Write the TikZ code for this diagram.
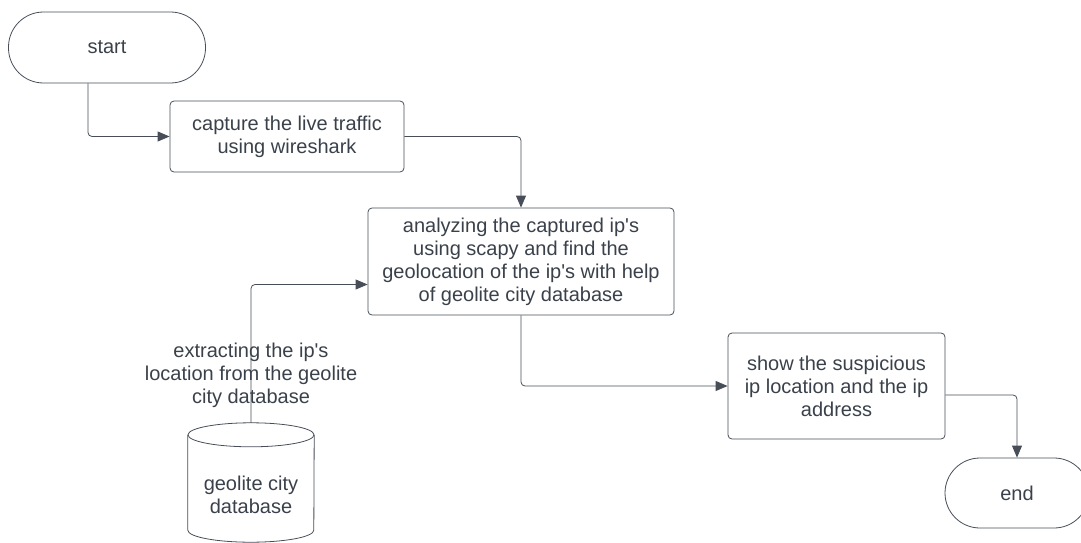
\documentclass[tikz,border=0pt]{standalone}
\usepackage{fontspec}
\setmainfont{Liberation Sans}
\usetikzlibrary{positioning,calc,arrows.meta}

\definecolor{inkgray}{RGB}{58,65,74}
\definecolor{linegray}{RGB}{72,78,88}

\begin{document}
\begin{tikzpicture}[x=1pt,y=-1pt,
		font=\fontsize{20}{23}\selectfont, text=inkgray,
		line/.style={draw=linegray, line width=0.8pt},
		box/.style={line, rectangle, rounded corners=4pt, align=center, inner sep=0pt},
		terminal/.style={line, rectangle, rounded corners=35pt, align=center},
		flow/.style={line, rounded corners=4pt, -{Triangle[length=12pt,width=10pt]}}]
			\useasboundingbox (0,0) rectangle (1081,543);
			\begin{scope}
				\node[terminal, minimum width=197pt, minimum height=71pt] (start) at (107,47.5) {start};
				\node[box, minimum width=234pt, minimum height=71pt] (capture) at (287,136.5) {capture the live traffic\\using wireshark};
				\node[box, minimum width=306pt, minimum height=107pt] (analyze) at (521,261.5) {analyzing the captured ip\textquotesingle s\\using scapy and find the\\geolocation of the ip\textquotesingle s with help\\of geolite city database};
				\node[box, minimum width=217pt, minimum height=106pt] (show) at (836.5,386) {show the suspicious\\ip location and the ip\\address};
				\node[terminal, minimum width=144pt, minimum height=70pt] (end) at (1017,493) {end};
				
				% database cylinder
				\node[align=center, minimum width=126pt, minimum height=95pt, inner sep=0pt] (db) at (251,494.5) {geolite city\\database};
				\draw[line] ([yshift=12pt]db.north west) -- ([yshift=12pt]db.south west)
					arc[start angle=180, end angle=360, x radius=63pt, y radius=12pt] -- ([yshift=12pt]db.north east);
				\draw[line] ([yshift=12pt]db.north) ellipse [x radius=63pt, y radius=12pt];
				\coordinate (dbtop) at ([yshift=24pt]db.north);
				
				\node[align=center] (extract) at (251,375) {extracting the ip\textquotesingle s\\location from the geolite\\city database};
				
				\draw[flow] ([xshift=-19pt]start.south) |- (capture.west);
				\draw[flow] (capture.east) -| (analyze.north);
				\draw[flow] (dbtop) |- ([yshift=-23pt]analyze.west);
				\draw[flow] (analyze.south) |- (show.west);
				\draw[flow] ([yshift=-9pt]show.east) -| (end.north);
			\end{scope}
		\end{tikzpicture}
\end{document}
